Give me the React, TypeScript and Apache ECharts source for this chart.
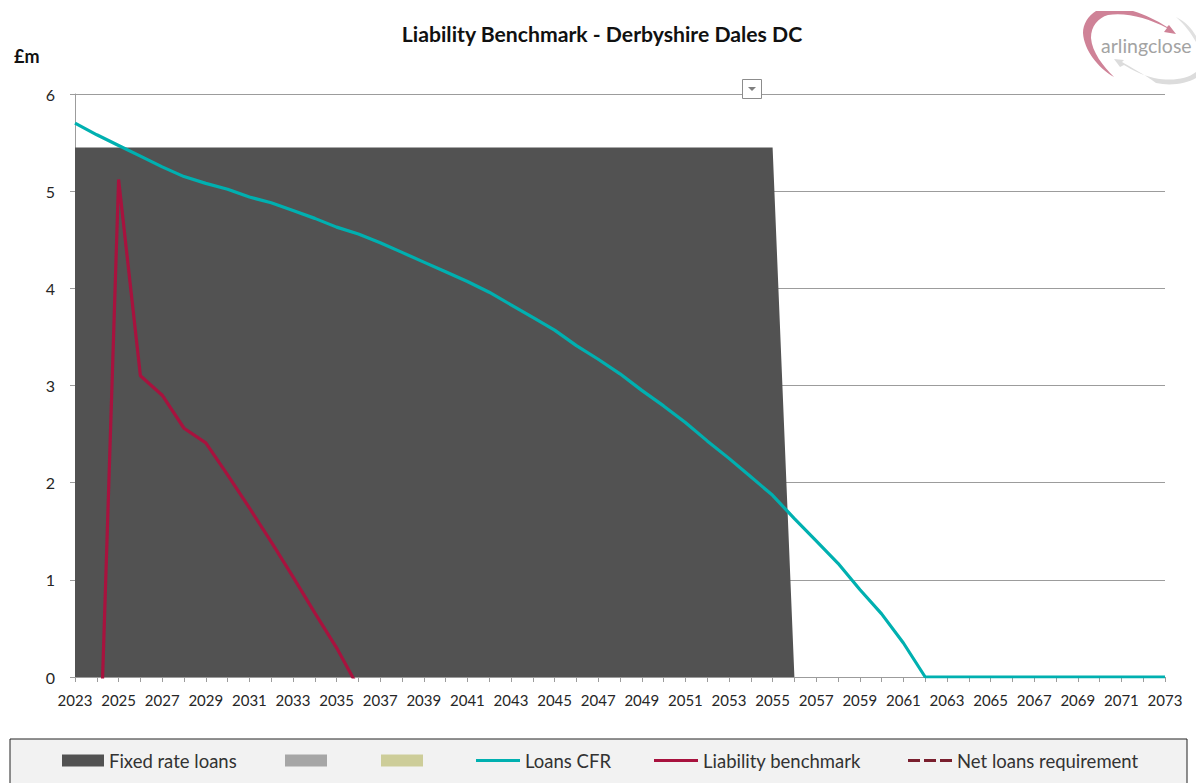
import React, { useEffect, useRef } from "react";
import * as echarts from "echarts";

const years = Array.from({ length: 51 }, (_, i) => String(2023 + i));
const fixedRateLoans = [5.45,5.45,5.45,5.45,5.45,5.45,5.45,5.45,5.45,5.45,5.45,5.45,5.45,5.45,5.45,5.45,5.45,5.45,5.45,5.45,5.45,5.45,5.45,5.45,5.45,5.45,5.45,5.45,5.45,5.45,5.45,5.45,5.45,0,0,0,0,0,0,0,0,0,0,0,0,0,0,0,0,0,0];
const loansCFR = [5.7,5.58,5.47,5.36,5.25,5.15,5.08,5.02,4.94,4.88,4.8,4.72,4.63,4.56,4.47,4.37,4.27,4.17,4.07,3.96,3.83,3.7,3.57,3.41,3.27,3.12,2.95,2.79,2.62,2.43,2.25,2.06,1.87,1.63,1.4,1.17,0.9,0.65,0.35,0,0,0,0,0,0,0,0,0,0,0,0];
const liabilityBenchmark = [-1.9,-1.86,5.12,3.1,2.9,2.56,2.41,2.08,1.74,1.39,1.03,0.66,0.3,-0.11];
const yTicks = { min: 0, max: 6, interval: 1 };
const FONT = "Lato";
const LOGO_PINK = "M1096 11 C1088 16 1083 24 1083 33 C1084 50 1098 68 1114 77 C1103 66 1092 52 1091 38 C1091 26 1098 18 1108 15 C1126 12 1148 18 1167 28 L1164 32 L1176 34 L1169 25 L1167 27 C1156 20 1146 15 1133 11 Z";
const LOGO_GRAY_TOP = "M1176 17 C1186 22 1192 29 1196 36 L1196 42 C1191 33 1185 25 1176 17 Z";
const LOGO_GRAY_BOTTOM = "M1196 72 C1186 80 1170 81 1154 78 C1142 75 1132 70 1124 65 L1120 67 L1114 59 L1124 60 L1122 62 C1132 68 1144 74 1156 83 C1170 86 1186 84 1196 78 Z";

echarts.graphic.registerShape("logoPink", echarts.graphic.extendPath(LOGO_PINK, {}));
echarts.graphic.registerShape("logoGrayTop", echarts.graphic.extendPath(LOGO_GRAY_TOP, {}));
echarts.graphic.registerShape("logoGrayBottom", echarts.graphic.extendPath(LOGO_GRAY_BOTTOM, {}));

const legendBase = {
  top: 751,
  padding: 0,
  textStyle: { fontFamily: FONT, fontSize: 18.5, color: "#333" },
};
const swatch = (left: number, name: string) => ({
  ...legendBase,
  left,
  itemWidth: 42,
  itemHeight: 12,
  data: [{ name, icon: "rect" }],
});
const lineKey = (left: number, name: string, icon: string) => ({
  ...legendBase,
  left,
  itemWidth: 44,
  itemHeight: 3,
  data: [{ name, icon }],
});

export default function App() {
  const ref = useRef<HTMLDivElement>(null);
  useEffect(() => {
    document.body.style.margin = "0";
    document.body.style.background = "#fff";
    const chart = echarts.init(ref.current!, null, { renderer: "svg" });
    chart.setOption({
      animation: false,
      backgroundColor: "#fff",
      textStyle: { fontFamily: FONT },
      title: {
        text: "Liability Benchmark - Derbyshire Dales DC",
        left: 597,
        textAlign: "center",
        top: 18,
        textStyle: { fontFamily: FONT, fontSize: 21.2, fontWeight: "bold", color: "#111" },
      },
      grid: { left: 75, right: 31, top: 94, bottom: 106, containLabel: false },
      xAxis: {
        type: "category",
        data: years,
        boundaryGap: false,
        axisLine: { onZero: false, lineStyle: { color: "#9c9c9c", width: 1 } },
        axisTick: { show: true, interval: 0, length: 5, lineStyle: { color: "#9c9c9c" } },
        axisLabel: { interval: 1, color: "#262626", fontSize: 15, margin: 15, fontFamily: FONT, showMaxLabel: true, hideOverlap: false },
        splitLine: { show: false },
      },
      yAxis: {
        type: "value",
        ...yTicks,
        axisLine: { show: true, lineStyle: { color: "#9c9c9c", width: 1 } },
        axisTick: { show: true, length: 5, lineStyle: { color: "#9c9c9c" } },
        axisLabel: { color: "#262626", fontSize: 16, margin: 20, fontFamily: FONT },
        splitLine: { show: true, lineStyle: { color: "#9c9c9c", width: 1 } },
      },
      legend: [
        swatch(62, "Fixed rate loans"),
        swatch(285, " "),
        swatch(381, "  "),
        lineKey(476, "Loans CFR", "rect"),
        lineKey(654, "Liability benchmark", "rect"),
        lineKey(908, "Net loans requirement", "path://M0 0H12V3H0Z M16 0H28V3H16Z M32 0H44V3H32Z"),
      ],
      series: [
        {
          name: "Fixed rate loans",
          type: "line",
          data: fixedRateLoans,
          symbol: "none",
          lineStyle: { width: 0 },
          itemStyle: { color: "#525252" },
          areaStyle: { color: "#525252", opacity: 1 },
          z: 2,
        },
        { name: " ", type: "bar", data: [], itemStyle: { color: "#a6a6a6" } },
        { name: "  ", type: "bar", data: [], itemStyle: { color: "#cdcd99" } },
        {
          name: "Loans CFR",
          type: "line",
          data: loansCFR,
          symbol: "none",
          lineStyle: { color: "#00b0b0", width: 3.2 },
          itemStyle: { color: "#00b0b0" },
          z: 4,
        },
        {
          name: "Liability benchmark",
          type: "line",
          data: liabilityBenchmark,
          symbol: "none",
          lineStyle: { color: "#a8123e", width: 3.2 },
          itemStyle: { color: "#a8123e" },
          z: 5,
        },
        {
          name: "Net loans requirement",
          type: "line",
          data: [],
          symbol: "none",
          lineStyle: { color: "#7a1f2e", width: 3, type: [9, 4] },
          itemStyle: { color: "#7a1f2e" },
          z: 3,
        },
      ],
      graphic: [
        {
          type: "rect",
          z: -1,
          shape: { x: 10, y: 739, width: 1177, height: 60 },
          style: { fill: "#f2f2f2", stroke: "#222", lineWidth: 1 },
        },
        { type: "text", x: 14, y: 47, style: { text: "£m", fontFamily: FONT, fontSize: 18, fontWeight: "bold", fill: "#111" } },
        { type: "rect", z: 10, shape: { x: 742.5, y: 79.5, width: 19, height: 19 }, style: { fill: "#fff", stroke: "#8c8c8c", lineWidth: 1 } },
        { type: "polygon", z: 11, shape: { points: [[748, 87], [756, 87], [752, 91]] }, style: { fill: "#7f7f7f" } },
        { type: "logoPink", x: 0, y: 0, z: 10, style: { fill: "#cf8297" } },
        { type: "logoGrayTop", x: 0, y: 0, z: 10, style: { fill: "#e0e0e0" } },
        { type: "logoGrayBottom", x: 0, y: 0, z: 10, style: { fill: "#dcdcdc" } },
        { type: "text", x: 1101, y: 35, z: 11, style: { text: "arlingclose", fontFamily: FONT, fontSize: 19.5, fill: "#a3a3a3" } },
      ],
    });
    return () => chart.dispose();
  }, []);
  return <div ref={ref} style={{ position: "fixed", left: 0, top: 0, width: 1196, height: 783 }} />;
}
